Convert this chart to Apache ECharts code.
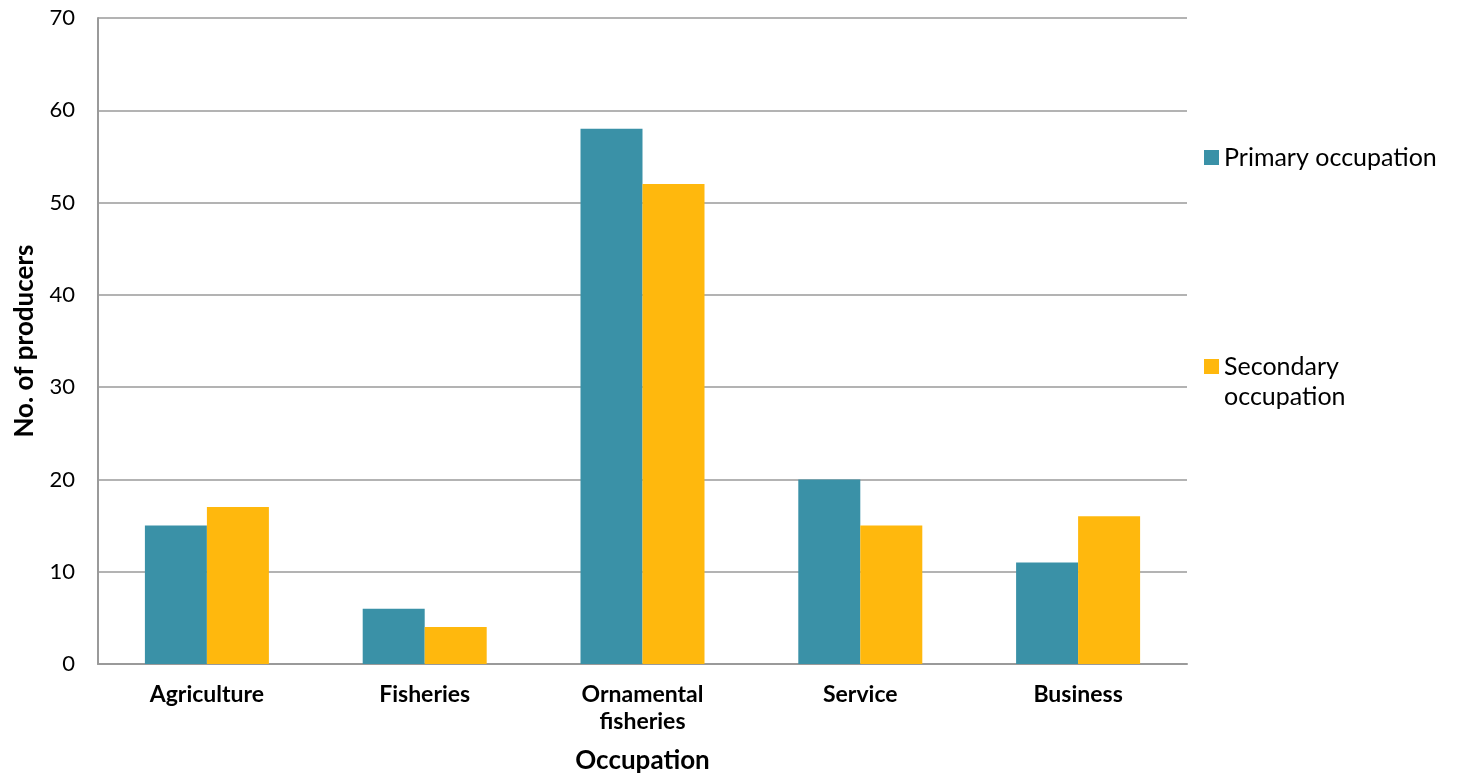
<!DOCTYPE html>
<html>
<head>
<meta charset="utf-8">
<script src="https://cdn.jsdelivr.net/npm/echarts@6/dist/echarts.min.js"></script>
<style>
  html, body { margin: 0; padding: 0; background: #ffffff; }
  #chart { width: 1468px; height: 775px; }
</style>
</head>
<body>
<div id="chart"></div>
<script>
// Occupation categories and producer counts
const categories = ['Agriculture', 'Fisheries', 'Ornamental\nfisheries', 'Service', 'Business'];
const primaryOccupation = [15, 6, 58, 20, 11];
const secondaryOccupation = [17, 4, 52, 15, 16];
const yTicks = { min: 0, max: 70, interval: 10 };

const FONT = 'Lato, "Open Sans", sans-serif';
const TEAL = '#3A91A7';
const GOLD = '#FFB80D';

const chart = echarts.init(document.getElementById('chart'));
chart.setOption({
  backgroundColor: '#ffffff',
  animation: false,
  textStyle: { fontFamily: FONT, color: '#000' },
  grid: {
    left: 98, right: 281, top: 18, bottom: 111,
    containLabel: false, outerBoundsMode: 'none'
  },
  legend: [
    {
      data: ['Primary occupation'],
      left: 1204, top: 145, padding: 0,
      itemWidth: 15, itemHeight: 15,
      icon: 'rect',
      textStyle: { fontFamily: FONT, fontSize: 25, color: '#000' }
    },
    {
      data: ['Secondary occupation'],
      formatter: () => 'Secondary',
      left: 1204, top: 354, padding: 0,
      itemWidth: 15, itemHeight: 15,
      icon: 'rect',
      textStyle: { fontFamily: FONT, fontSize: 25, color: '#000' }
    }
  ],
  graphic: [
    {
      type: 'text',
      left: 1224, top: 384,
      style: { text: 'occupation', font: '25px ' + FONT, fill: '#000' }
    }
  ],
  xAxis: {
    type: 'category',
    data: categories,
    name: 'Occupation',
    nameLocation: 'middle',
    nameGap: 84,
    nameTextStyle: { fontFamily: FONT, fontSize: 26, fontWeight: 'bold', color: '#000' },
    axisLine: { lineStyle: { color: '#9a9a9a', width: 2 } },
    axisTick: { show: false },
    axisLabel: {
      fontFamily: FONT, fontSize: 23, fontWeight: 'bold', color: '#000',
      margin: 17, lineHeight: 27, interval: 0
    }
  },
  yAxis: {
    type: 'value',
    min: yTicks.min, max: yTicks.max, interval: yTicks.interval,
    name: 'No. of producers',
    nameLocation: 'middle',
    nameRotate: 90,
    nameGap: 60,
    nameTextStyle: { fontFamily: FONT, fontSize: 26, fontWeight: 'bold', color: '#000' },
    axisLine: { show: true, lineStyle: { color: '#9a9a9a', width: 2 } },
    axisTick: { show: false },
    axisLabel: { fontFamily: FONT, fontSize: 22, color: '#000', margin: 23 },
    splitLine: { lineStyle: { color: '#9a9a9a', width: 1.5 } }
  },
  series: [
    {
      name: 'Primary occupation',
      type: 'bar',
      data: primaryOccupation,
      barWidth: 62,
      barGap: '0%',
      itemStyle: { color: TEAL }
    },
    {
      name: 'Secondary occupation',
      type: 'bar',
      data: secondaryOccupation,
      barWidth: 62,
      barGap: '0%',
      itemStyle: { color: GOLD }
    }
  ]
});
</script>
</body>
</html>
